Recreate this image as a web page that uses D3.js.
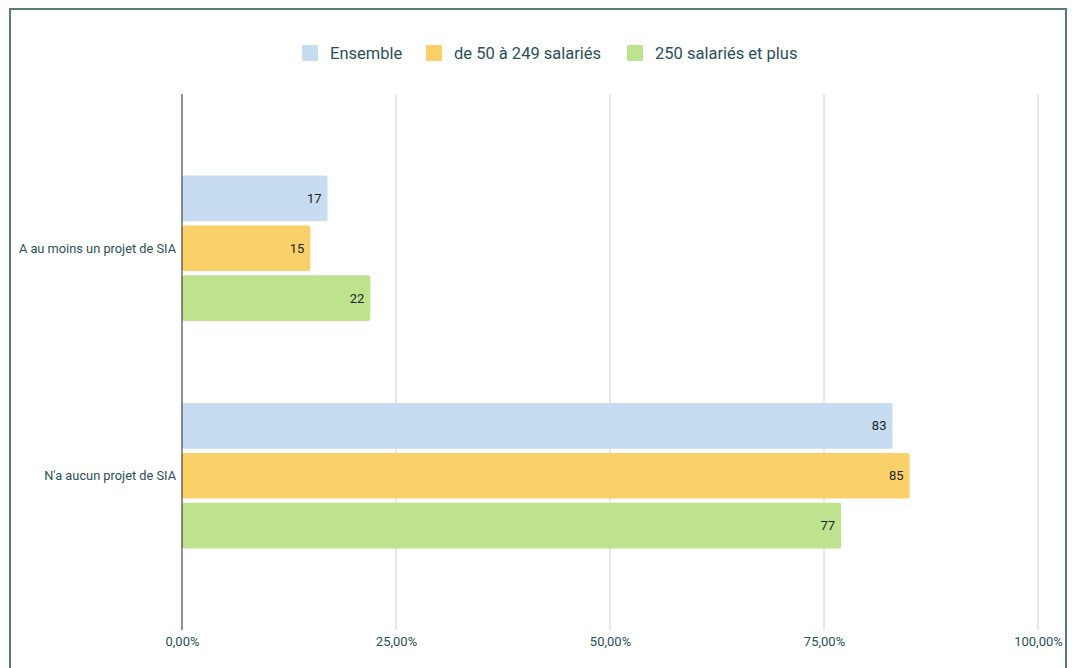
<!DOCTYPE html>
<html>
<head>
<meta charset="utf-8">
<script src="https://cdn.jsdelivr.net/npm/d3@7"></script>
<style>
  body { margin: 0; background: #fff; font-family: Roboto, "Open Sans", sans-serif; }
</style>
</head>
<body>
<script>
// Chart data
const categories = ["A au moins un projet de SIA", "N'a aucun projet de SIA"];
const seriesNames = ["Ensemble", "de 50 à 249 salariés", "250 salariés et plus"];
const seriesColors = ["#c5dcf1", "#fad168", "#bde38f"];
const ensembleValues = [17, 83];
const moyennesValues = [15, 85];
const grandesValues = [22, 77];
const tickValues = [0, 25, 50, 75, 100];

const allSeries = [ensembleValues, moyennesValues, grandesValues];

const width = 1072, height = 668;
const textColor = "#2b4f58";

const svg = d3.select("body")
    .append("svg")
    .attr("width", width)
    .attr("height", height);

// frame
svg.append("rect")
    .attr("x", 10).attr("y", 9)
    .attr("width", 1056).attr("height", 700)
    .attr("fill", "none")
    .attr("stroke", "#5a7880")
    .attr("stroke-width", 2);

const x = d3.scaleLinear().domain([0, 100]).range([182, 1038]);

const y0 = d3.scaleBand()
    .domain(categories)
    .range([94, 630])
    .paddingInner(0.36)
    .paddingOuter(0.358);

const y1 = d3.scaleBand()
    .domain(d3.range(seriesNames.length))
    .range([0, y0.bandwidth()])
    .paddingInner(0.085);

// gridlines
svg.append("g")
    .selectAll("line")
    .data(tickValues.filter(d => d > 0))
    .join("line")
    .attr("x1", d => x(d)).attr("x2", d => x(d))
    .attr("y1", 94).attr("y2", 630)
    .attr("stroke", "#d0d0d0")
    .attr("stroke-width", 1);

// x axis labels
const xAxis = d3.axisBottom(x)
    .tickValues(tickValues)
    .tickSize(0)
    .tickPadding(0)
    .tickFormat(d => d3.format(".2f")(d).replace(".", ",") + "%");

svg.append("g")
    .attr("transform", "translate(0,637)")
    .call(xAxis)
    .call(g => g.select(".domain").remove())
    .selectAll("text")
    .attr("fill", textColor)
    .attr("font-size", 13)
    .attr("font-family", "Roboto, sans-serif");

// bars
const rows = [];
categories.forEach((c, i) => {
    allSeries.forEach((s, j) => rows.push({ cat: c, idx: j, value: s[i] }));
});

const bars = svg.append("g");
bars.selectAll("rect")
    .data(rows)
    .join("rect")
    .attr("x", x(0))
    .attr("y", d => y0(d.cat) + y1(d.idx))
    .attr("width", d => x(d.value) - x(0))
    .attr("height", y1.bandwidth())
    .attr("rx", 2)
    .attr("fill", d => seriesColors[d.idx]);

bars.selectAll("text")
    .data(rows)
    .join("text")
    .attr("x", d => x(d.value) - 6)
    .attr("y", d => y0(d.cat) + y1(d.idx) + y1.bandwidth() / 2)
    .attr("dy", "0.35em")
    .attr("text-anchor", "end")
    .attr("font-size", 13)
    .attr("fill", "#222")
    .text(d => d.value);

// zero line
svg.append("line")
    .attr("x1", x(0)).attr("x2", x(0))
    .attr("y1", 94).attr("y2", 630)
    .attr("stroke", "#222")
    .attr("stroke-width", 1);

// category labels
svg.append("g")
    .selectAll("text")
    .data(categories)
    .join("text")
    .attr("x", 176)
    .attr("y", d => y0(d) + y0.bandwidth() / 2)
    .attr("dy", "0.35em")
    .attr("text-anchor", "end")
    .attr("font-size", 12.8)
    .attr("fill", textColor)
    .text(d => d);

// legend
const legendX = [302, 426, 627];
const legend = svg.append("g")
    .selectAll("g")
    .data(seriesNames)
    .join("g")
    .attr("transform", (d, i) => `translate(${legendX[i]},45)`);

legend.append("rect")
    .attr("width", 16).attr("height", 16)
    .attr("rx", 1)
    .attr("fill", (d, i) => seriesColors[i]);

legend.append("text")
    .attr("x", 28)
    .attr("y", 8)
    .attr("dy", "0.35em")
    .attr("font-size", 16.5)
    .attr("fill", textColor)
    .text(d => d);
</script>
</body>
</html>
